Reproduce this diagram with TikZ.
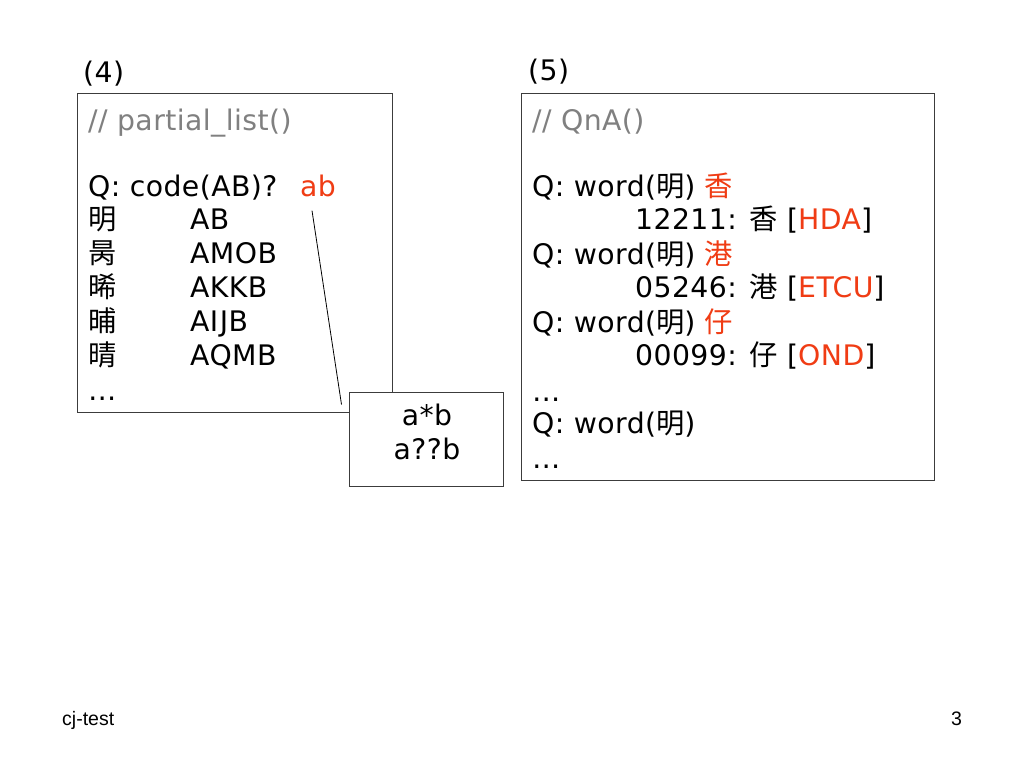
\documentclass[tikz,border=0pt]{standalone}
\usepackage{fontspec}
\setmainfont[LetterSpace=1.5]{DejaVu Sans}
\newfontfamily\cjk{Noto Sans CJK TC}
\newfontfamily\footfont{Liberation Sans}
\usetikzlibrary{calc}
\definecolor{hl}{RGB}{240,60,20}
\definecolor{cm}{RGB}{128,128,128}
\definecolor{frame}{RGB}{60,60,60}
\tikzset{
  txt/.style={anchor=base west, inner sep=0pt, font=\fontsize{28.3}{34}\selectfont},
  ctxt/.style={anchor=base, inner sep=0pt, font=\fontsize{28.3}{34}\selectfont},
  panel/.style={draw=frame, line width=1pt, fill=white},
  foot/.style={anchor=base west, inner sep=0pt, font=\footfont\fontsize{19.5}{22}\selectfont},
  link/.style={draw=black, line width=0.8pt}
}
\begin{document}
\begin{tikzpicture}[x=1pt,y=-1pt]
\useasboundingbox (0,0) rectangle (1024,768);
% panels
\draw[panel] (77,93) rectangle (392,412);
\draw[panel] (521,93) rectangle (934,480);
% left panel
\node[txt] (lab4) at (83,82) {(4)};
\node[txt, text=cm] (ltitle) at (88,130) {// partial\_list()};
\node[txt] (lq) at (88,196) {Q: code(AB)?};
\node[txt, text=hl] (ab) at (300,196) {ab};
\node[txt] (c1) at (88,229) {\cjk 明};
\node[txt] (k1) at (190,229) {AB};
\node[txt] (c2) at (88,263) {\cjk 昺};
\node[txt] (k2) at (190,263) {AMOB};
\node[txt] (c3) at (88,297) {\cjk 晞};
\node[txt] (k3) at (190,297) {AKKB};
\node[txt] (c4) at (88,331) {\cjk 晡};
\node[txt] (k4) at (190,331) {AI\kern1.5pt JB};
\node[txt] (c5) at (88,365) {\cjk 晴};
\node[txt] (k5) at (190,365) {AQMB};
\node[txt] (ldots) at (88,400) {…};
% pattern box
\node[panel, minimum width=154pt, minimum height=94pt, inner sep=0pt] (pat) at (426,439) {};
\node[ctxt] (p1) at (427,425) {a*b};
\node[ctxt] (p2) at (427,459) {a??b};
\coordinate (lend) at ($(pat.north west)+(-7,13)$);
\draw[link] ($(ab.south west)+(12,14)$) -- (lend);
% right panel
\node[txt] (lab5) at (528,80) {(5)};
\node[txt, text=cm] (rtitle) at (532,130) {// QnA()};
\node[txt] (q1) at (532,196) {Q: word({\cjk 明}) {\cjk\color{hl}香}};
\node[txt] (a1) at (635,229) {12211: {\cjk 香} [{\color{hl}HDA}]};
\node[txt] (q2) at (532,264) {Q: word({\cjk 明}) {\cjk\color{hl}港}};
\node[txt] (a2) at (635,297) {05246: {\cjk 港} [{\color{hl}ETCU}]};
\node[txt] (q3) at (532,332) {Q: word({\cjk 明}) {\cjk\color{hl}仔}};
\node[txt] (a3) at (635,365) {00099: {\cjk 仔} [{\color{hl}OND}]};
\node[txt] (rdots1) at (532,401) {…};
\node[txt] (q4) at (532,433) {Q: word({\cjk 明})};
\node[txt] (rdots2) at (532,468) {…};
% footer
\node[foot] (ft) at (62,725) {cj-test};
\node[foot] (pg) at (951,725) {3};
\end{tikzpicture}
\end{document}
